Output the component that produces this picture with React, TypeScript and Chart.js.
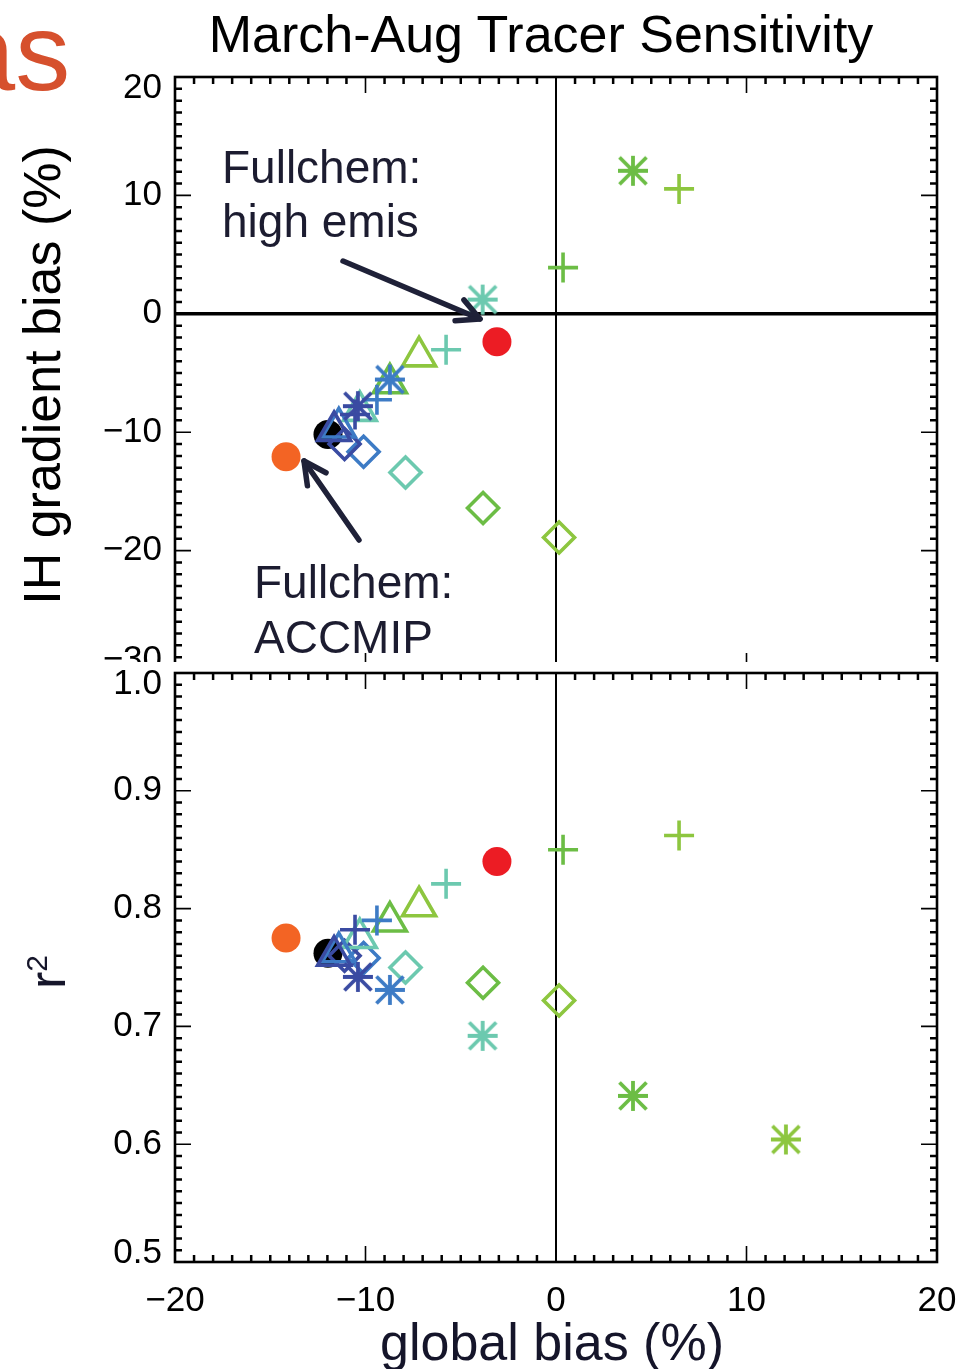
import React, { useEffect, useRef } from 'react';
import { Chart, registerables } from 'chart.js';

Chart.register(...registerables);

// ---------------- data ----------------
// series listed from bottom-most drawn to top-most drawn
const SERIES_NAMES = [
  'Fullchem: ACCMIP', 'Fullchem', 'Fullchem (red)',
  'Diamond run 5', 'Diamond run 4', 'Diamond run 3', 'Diamond run 2', 'Diamond run 1',
  'Triangle run 5', 'Triangle run 4', 'Triangle run 3', 'Triangle run 2', 'Triangle run 1',
  'Plus run 5', 'Plus run 4', 'Plus run 3', 'Plus run 2', 'Plus run 1',
  'Asterisk run 5', 'Asterisk run 4', 'Fullchem: high emis', 'Asterisk run 2', 'Asterisk run 1',
];
const GLOBAL_BIAS = [
  -14.17, -11.97, -3.1,
  0.16, -3.83, -7.9, -10.1, -11.1,
  -7.19, -8.72, -10.3, -11.4, -11.65,
  6.46, 0.37, -5.77, -9.4, -10.55,
  12.07, 4.04, -3.85, -8.72, -10.4,
];
const IH_GRADIENT_BIAS: (number | null)[] = [
  -12.07, -10.2, -2.36,
  -18.9, -16.4, -13.4, -11.65, -11.0,
  -3.6, -5.87, -8.2, -9.6, -9.9,
  10.55, 3.9, -3.04, -7.26, -8.5,
  null, 12.08, 1.2, -5.55, -7.8,
];
const R_SQUARED = [
  0.775, 0.762, 0.84,
  0.722, 0.737, 0.75, 0.758, 0.76,
  0.802, 0.789, 0.775, 0.763, 0.76,
  0.862, 0.85, 0.821, 0.79, 0.782,
  0.604, 0.641, 0.692, 0.731, 0.742,
];

// styles (kept separate from values)
const MARKERS = [
  'circle', 'circle', 'circle',
  'rectRot', 'rectRot', 'rectRot', 'rectRot', 'rectRot',
  'triangle', 'triangle', 'triangle', 'triangle', 'triangle',
  'cross', 'cross', 'cross', 'cross', 'cross',
  'asterisk', 'asterisk', 'asterisk', 'asterisk', 'asterisk',
];
const ORANGE = '#f36424';
const BLACK = '#000000';
const RED = '#ec1c24';
const YGREEN = '#8dc63f';
const GREEN = '#6cbd45';
const TEAL = '#6cc9af';
const BLUE = '#3d7bc5';
const DBLUE = '#3a4ba2';
const COLORS = [
  ORANGE, BLACK, RED,
  YGREEN, GREEN, TEAL, BLUE, DBLUE,
  YGREEN, GREEN, TEAL, BLUE, DBLUE,
  YGREEN, GREEN, TEAL, BLUE, DBLUE,
  YGREEN, GREEN, TEAL, BLUE, DBLUE,
];

const X_TICKS = [-20, -10, 0, 10, 20];
const X_TICK_LABELS = ['\u221220', '\u221210', '0', '10', '20'];
const IH_TICKS = [-30, -20, -10, 0, 10, 20];
const IH_TICK_LABELS = ['\u221230', '\u221220', '\u221210', '0', '10', '20'];
const R2_TICKS = [0.5, 0.6, 0.7, 0.8, 0.9, 1.0];
const R2_TICK_LABELS = ['0.5', '0.6', '0.7', '0.8', '0.9', '1.0'];

const FONT = '"Liberation Sans", Arial, Helvetica, sans-serif';

// ---------------- helpers ----------------
const asteriskCache: Record<string, HTMLCanvasElement> = {};
function asterisk(color: string): HTMLCanvasElement {
  if (asteriskCache[color]) return asteriskCache[color];
  const s = 32;
  const c = document.createElement('canvas');
  c.width = s;
  c.height = s;
  const g = c.getContext('2d')!;
  g.strokeStyle = color;
  g.lineWidth = 3.8;
  g.beginPath();
  g.moveTo(1, s / 2); g.lineTo(s - 1, s / 2);
  g.moveTo(s / 2, 1); g.lineTo(s / 2, s - 1);
  g.moveTo(2.5, 2.5); g.lineTo(s - 2.5, s - 2.5);
  g.moveTo(s - 2.5, 2.5); g.lineTo(2.5, s - 2.5);
  g.stroke();
  asteriskCache[color] = c;
  return c;
}

const RADIUS: Record<string, number> = { circle: 14.5, rectRot: 15.5, triangle: 19, cross: 15, asterisk: 15 };

function buildDatasets(values: (number | null)[]) {
  const ds: any[] = [];
  for (let i = SERIES_NAMES.length - 1; i >= 0; i--) {
    const v = values[i];
    const m = MARKERS[i];
    const c = COLORS[i];
    ds.push({
      label: SERIES_NAMES[i],
      data: v === null ? [] : [{ x: GLOBAL_BIAS[i], y: v }],
      showLine: false,
      pointStyle: m === 'asterisk' ? asterisk(c) : m,
      pointRadius: RADIUS[m],
      pointHoverRadius: RADIUS[m],
      pointBorderWidth: m === 'circle' ? 0 : 3.6,
      pointBorderColor: c,
      pointBackgroundColor: m === 'circle' ? c : 'rgba(0,0,0,0)',
    });
  }
  return ds;
}

type PanelCfg = {
  yMin: number;
  yMax: number;
  yMinor: number;
  yTicks: number[];
  yLabels: string[];
  showX: boolean;
  zeroH: boolean;
};

function panelPlugin(cfg: PanelCfg) {
  return {
    id: 'idlPanel',
    beforeDatasetsDraw(chart: any) {
      const { ctx, chartArea: a, scales } = chart;
      ctx.save();
      ctx.strokeStyle = '#000';
      const x0 = scales.x.getPixelForValue(0);
      ctx.lineWidth = 2;
      ctx.beginPath();
      ctx.moveTo(x0, a.top);
      ctx.lineTo(x0, a.bottom);
      ctx.stroke();
      if (cfg.zeroH) {
        const y0 = scales.y.getPixelForValue(0);
        ctx.lineWidth = 3.5;
        ctx.beginPath();
        ctx.moveTo(a.left, y0);
        ctx.lineTo(a.right, y0);
        ctx.stroke();
      }
      ctx.restore();
    },
    afterDraw(chart: any) {
      const { ctx, chartArea: a, scales } = chart;
      const xs = scales.x;
      const ys = scales.y;
      ctx.save();
      ctx.strokeStyle = '#000';
      // x ticks (top and bottom edges)
      for (let i = -20; i <= 20; i++) {
        if (i === -20 || i === 20) continue;
        const px = xs.getPixelForValue(i);
        const major = i % 10 === 0;
        const len = major ? 16 : 7;
        ctx.lineWidth = major ? 1.6 : 2.5;
        ctx.beginPath();
        ctx.moveTo(px, a.bottom);
        ctx.lineTo(px, a.bottom - len);
        ctx.moveTo(px, a.top);
        ctx.lineTo(px, a.top + len);
        ctx.stroke();
      }
      // y ticks (left and right edges)
      const n = Math.round((cfg.yMax - cfg.yMin) / cfg.yMinor);
      for (let k = 1; k < n; k++) {
        const v = cfg.yMin + k * cfg.yMinor;
        const py = ys.getPixelForValue(v);
        const major = k % 10 === 0;
        const len = major ? 16 : 7;
        ctx.lineWidth = major ? 1.6 : 2.5;
        ctx.beginPath();
        ctx.moveTo(a.left, py);
        ctx.lineTo(a.left + len, py);
        ctx.moveTo(a.right, py);
        ctx.lineTo(a.right - len, py);
        ctx.stroke();
      }
      // frame
      ctx.lineWidth = 2.6;
      ctx.strokeRect(a.left, a.top, a.right - a.left, a.bottom - a.top);

      // labels
      ctx.fillStyle = '#000';
      ctx.font = '35px ' + FONT;
      ctx.textAlign = 'right';
      ctx.textBaseline = 'middle';
      cfg.yTicks.forEach((v, i) => {
        let py = ys.getPixelForValue(v);
        if (i === 0) py -= 9;
        if (i === cfg.yTicks.length - 1) py += 11;
        ctx.fillText(cfg.yLabels[i], a.left - 13, py);
      });
      if (cfg.showX) {
        ctx.textAlign = 'center';
        X_TICKS.forEach((v, i) => {
          const px = xs.getPixelForValue(v);
          ctx.fillText(X_TICK_LABELS[i], px, a.bottom + 39);
        });
      }
      ctx.restore();
    },
  };
}

function makeConfig(values: (number | null)[], cfg: PanelCfg, padding: any) {
  return {
    type: 'scatter',
    data: { datasets: buildDatasets(values) },
    options: {
      animation: false,
      responsive: false,
      events: [],
      layout: { padding, autoPadding: false },
      plugins: {
        legend: { display: false },
        tooltip: { enabled: false },
        title: { display: false },
      },
      scales: {
        x: {
          type: 'linear',
          min: -20,
          max: 20,
          grid: { display: false },
          border: { display: false },
          ticks: { display: false },
          afterFit: (s: any) => { s.height = 0; },
        },
        y: {
          type: 'linear',
          min: cfg.yMin,
          max: cfg.yMax,
          grid: { display: false },
          border: { display: false },
          ticks: { display: false },
          afterFit: (s: any) => { s.width = 175; },
        },
      },
    },
    plugins: [panelPlugin(cfg)],
  } as any;
}

function ChartCanvas({ makeCfg, width, height }: { makeCfg: () => any; width: number; height: number }) {
  const ref = useRef<HTMLCanvasElement | null>(null);
  useEffect(() => {
    if (!ref.current) return;
    const chart = new Chart(ref.current, makeCfg());
    return () => chart.destroy();
  }, []);
  return <canvas ref={ref} width={width} height={height} style={{ display: 'block', width, height }} />;
}

const TOP_CFG: PanelCfg = {
  yMin: -30, yMax: 20, yMinor: 1, yTicks: IH_TICKS, yLabels: IH_TICK_LABELS, showX: false, zeroH: true,
};
const BOT_CFG: PanelCfg = {
  yMin: 0.5, yMax: 1.0, yMinor: 0.01, yTicks: R2_TICKS, yLabels: R2_TICK_LABELS, showX: true, zeroH: false,
};

function Arrow({ x1, y1, x2, y2 }: { x1: number; y1: number; x2: number; y2: number }) {
  const ang = Math.atan2(y1 - y2, x1 - x2);
  const L = 25;
  const d = (27 * Math.PI) / 180;
  const ax = x2 + L * Math.cos(ang + d);
  const ay = y2 + L * Math.sin(ang + d);
  const bx = x2 + L * Math.cos(ang - d);
  const by = y2 + L * Math.sin(ang - d);
  return (
    <g stroke="#1f2138" strokeWidth={5.5} strokeLinecap="round" strokeLinejoin="round" fill="none">
      <line x1={x1} y1={y1} x2={x2} y2={y2} />
      <polyline points={`${ax},${ay} ${x2},${y2} ${bx},${by}`} />
    </g>
  );
}

export default function App() {
  const textBase: React.CSSProperties = {
    position: 'absolute',
    fontFamily: FONT,
    whiteSpace: 'nowrap',
    lineHeight: 1,
    margin: 0,
  };
  return (
    <div style={{ position: 'absolute', left: 0, top: 0, width: 972, height: 1369, overflow: 'hidden', background: '#fff' }}>
      <div style={{ position: 'absolute', left: 0, top: 0, width: 972, height: 662, overflow: 'hidden' }}>
        <ChartCanvas
          width={972}
          height={700}
          makeCfg={() => makeConfig(IH_GRADIENT_BIAS, TOP_CFG, { top: 77, right: 35, bottom: 31, left: 0 })}
        />
      </div>
      <div style={{ position: 'absolute', left: 0, top: 660, width: 972, height: 709 }}>
        <ChartCanvas
          width={972}
          height={709}
          makeCfg={() => makeConfig(R_SQUARED, BOT_CFG, { top: 13, right: 35, bottom: 107, left: 0 })}
        />
      </div>

      {/* texts */}
      <div style={{ ...textBase, left: -46, top: -3, fontSize: 110, color: '#d6502d' }}>as</div>
      <div style={{ ...textBase, left: 541, top: 8, fontSize: 52, color: '#000', transform: 'translateX(-50%)' }}>
        March-Aug Tracer Sensitivity
      </div>
      <div style={{ ...textBase, left: 222, top: 140, fontSize: 46, lineHeight: '54px', color: '#1c1c30' }}>
        Fullchem:<br />high emis
      </div>
      <div style={{ ...textBase, left: 254, top: 555, fontSize: 46, lineHeight: '55px', color: '#1c1c30' }}>
        Fullchem:<br />ACCMIP
      </div>
      <div
        style={{
          ...textBase, left: 42, top: 375, fontSize: 52, color: '#000',
          transform: 'translate(-50%, -50%) rotate(-90deg)',
        }}
      >
        IH gradient bias (%)
      </div>
      <div
        style={{
          ...textBase, left: 47, top: 972, fontSize: 52, color: '#15152a',
          transform: 'translate(-50%, -50%) rotate(-90deg)',
        }}
      >
        r<span style={{ fontSize: 30, position: 'relative', top: -18 }}>2</span>
      </div>
      <div style={{ ...textBase, left: 552, top: 1316, fontSize: 52, color: '#15152a', transform: 'translateX(-50%)' }}>
        global bias (%)
      </div>

      <svg width={972} height={1369} style={{ position: 'absolute', left: 0, top: 0, pointerEvents: 'none' }}>
        <Arrow x1={343} y1={261} x2={480} y2={319} />
        <Arrow x1={359} y1={540} x2={304} y2={461} />
      </svg>
    </div>
  );
}
